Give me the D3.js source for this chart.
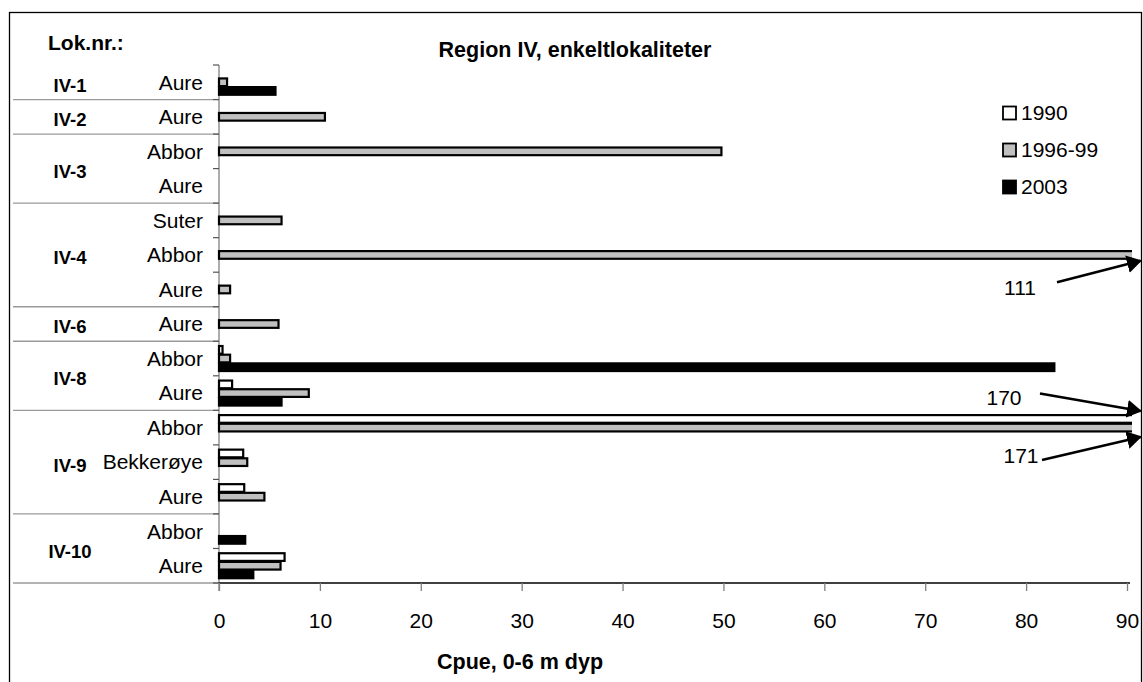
<!DOCTYPE html>
<html><head><meta charset="utf-8">
<script src="https://cdn.jsdelivr.net/npm/d3@7"></script>
<style>
html,body{margin:0;padding:0;background:#fff;}
text{font-family:"Liberation Sans",Arial,sans-serif;fill:#000;}
</style></head>
<body>
<svg id="chart" width="1143" height="682"></svg>
<script>
// ---- data ----
const localities = ["IV-1","IV-2","IV-3","IV-3","IV-4","IV-4","IV-4","IV-6","IV-8","IV-8","IV-9","IV-9","IV-9","IV-10","IV-10"];
const species    = ["Aure","Aure","Abbor","Aure","Suter","Abbor","Aure","Aure","Abbor","Aure","Abbor","Bekkerøye","Aure","Abbor","Aure"];
const seriesNames = ["1990","1996-99","2003"];
const values1990   = [null,null,null,null,null,null,null,null,0.35,1.3,170,2.4,2.5,null,6.5];
const values199699 = [0.8,10.5,49.8,null,6.2,111,1.1,5.9,1.1,8.9,171,2.8,4.5,null,6.1];
const values2003   = [5.6,null,null,null,null,null,null,null,82.8,6.2,null,null,null,2.6,3.4];
const xTicks = [0,10,20,30,40,50,60,70,80,90];
const seriesFill = ["#ffffff","#c0c0c0","#000000"];
// annotations for off-scale values: [label, row index, series]
const offScale = [["111",5,"1996-99"],["170",10,"1990"],["171",10,"1996-99"]];

// ---- layout ----
const svg = d3.select("#chart");
const frame = {l:9.5, t:12.5, r:1141.5};
const plot = {l:219, r:1127, t:65, b:583};
const rowKeys = species.map((s,i)=>i);

const x = d3.scaleLinear().domain([0,90]).range([plot.l, plot.r]);
const y = d3.scaleBand().domain(rowKeys).range([plot.t, plot.b]).paddingInner(0.247).paddingOuter(0.1235);
const y1 = d3.scaleBand().domain(seriesNames).range([0, y.bandwidth()]);
const step = y.step();
const rowTop = i => plot.t + i*step;

// frame
svg.append("rect").attr("x",frame.l).attr("y",frame.t).attr("width",frame.r-frame.l).attr("height",700)
  .attr("fill","none").attr("stroke","#000").attr("stroke-width",1.3);

// title
svg.append("text").attr("x",575).attr("y",57).attr("text-anchor","middle")
  .attr("font-weight","bold").attr("font-size",21.5).text("Region IV, enkeltlokaliteter");
svg.append("text").attr("x",48).attr("y",50).attr("font-weight","bold").attr("font-size",21).text("Lok.nr.:");

// group separators and labels
const groups = [];
localities.forEach((g,i)=>{
  if(!groups.length || groups[groups.length-1].name!==g) groups.push({name:g,start:i,end:i});
  else groups[groups.length-1].end=i;
});
groups.forEach(g=>{
  const yb = rowTop(g.end+1);
  svg.append("line").attr("x1",13).attr("x2",plot.l).attr("y1",yb).attr("y2",yb)
    .attr("stroke","#9a9a9a").attr("stroke-width",1.3);
  const yc = (rowTop(g.start)+rowTop(g.end+1))/2;
  svg.append("text").attr("x",70).attr("y",yc+3).attr("dy","0.35em").attr("text-anchor","middle")
    .attr("font-weight","bold").attr("font-size",18.5).text(g.name);
});

// category labels
species.forEach((s,i)=>{
  svg.append("text").attr("x",203).attr("y",rowTop(i)+step/2).attr("dy","0.35em")
    .attr("text-anchor","end").attr("font-size",21).text(s);
});

// y axis line and ticks
svg.append("line").attr("x1",plot.l).attr("x2",plot.l).attr("y1",plot.t).attr("y2",plot.b+8)
  .attr("stroke","#808080").attr("stroke-width",1.3);
d3.range(species.length+1).forEach(i=>{
  svg.append("line").attr("x1",plot.l-6).attr("x2",plot.l).attr("y1",rowTop(i)).attr("y2",rowTop(i))
    .attr("stroke","#555").attr("stroke-width",1.2);
});

// bars
svg.append("clipPath").attr("id","clip").append("rect")
  .attr("x",plot.l-3).attr("y",0).attr("width",x(90)-plot.l+8).attr("height",682);
const allSeries = [values1990, values199699, values2003];
const barData = [];
allSeries.forEach((vals,si)=>vals.forEach((v,i)=>{ if(v!==null) barData.push({i,si,v}); }));
svg.append("g").attr("clip-path","url(#clip)").selectAll("rect").data(barData).join("rect")
  .attr("x",x(0)).attr("y",d=>y(d.i)+y1(seriesNames[d.si])+0.5)
  .attr("width",d=>Math.max(0,x(d.v)-x(0)))
  .attr("height",y1.bandwidth()-1)
  .attr("fill",d=>seriesFill[d.si]).attr("stroke","#000").attr("stroke-width",2.2);

// x axis
const xAxis = svg.append("g").attr("transform",`translate(0,${plot.b})`)
  .call(d3.axisBottom(x).tickValues(xTicks).tickSize(8).tickPadding(22).tickFormat(d3.format("d")));
xAxis.select(".domain").attr("stroke","#000").attr("stroke-width",1.3).attr("d",`M${plot.l},0H${plot.r+3}`);
xAxis.selectAll(".tick line").attr("stroke","#808080").attr("stroke-width",1.3);
xAxis.selectAll(".tick text").attr("font-size",21).attr("font-family","Liberation Sans, Arial, sans-serif").attr("fill","#000");
svg.append("text").attr("x",520).attr("y",669).attr("text-anchor","middle")
  .attr("font-weight","bold").attr("font-size",21.5).text("Cpue, 0-6 m dyp");

// legend
seriesNames.forEach((s,k)=>{
  const ly = 113 + k*37;
  svg.append("rect").attr("x",1003).attr("y",ly-6.5).attr("width",13).attr("height",13)
    .attr("fill",seriesFill[k]).attr("stroke","#000").attr("stroke-width",1.8);
  svg.append("text").attr("x",1021).attr("y",ly).attr("dy","0.35em").attr("font-size",21).text(s);
});

// off-scale annotations
svg.append("defs").append("marker").attr("id","arr").attr("viewBox","0 0 10 12")
  .attr("refX",9).attr("refY",6).attr("markerWidth",6).attr("markerHeight",7.2)
  .attr("markerUnits","strokeWidth").attr("orient","auto")
  .append("path").attr("d","M0,0L10,6L0,12z").attr("fill","#000");
offScale.forEach(([lab,i,s])=>{
  const top = y(i)+y1(s), bot = top+y1.bandwidth();
  let tipY, startY, txtY, txtX, startX;
  if(lab==="111"){ tipY=bot+1.5; startY=bot+23; txtY=bot+28; txtX=1020; startX=1057; }
  else if(lab==="170"){ tipY=top-3.5; startY=top-21; txtY=top-17; txtX=1004; startX=1040; }
  else { tipY=bot+5; startY=bot+28; txtY=bot+24; txtX=1021; startX=1042; }
  svg.append("line").attr("x1",startX).attr("y1",startY).attr("x2",frame.r-1).attr("y2",tipY)
    .attr("stroke","#000").attr("stroke-width",2.5).attr("marker-end","url(#arr)");
  svg.append("text").attr("x",txtX).attr("y",txtY).attr("dy","0.35em").attr("text-anchor","middle")
    .attr("font-size",21).text(lab);
});
</script>
</body></html>
